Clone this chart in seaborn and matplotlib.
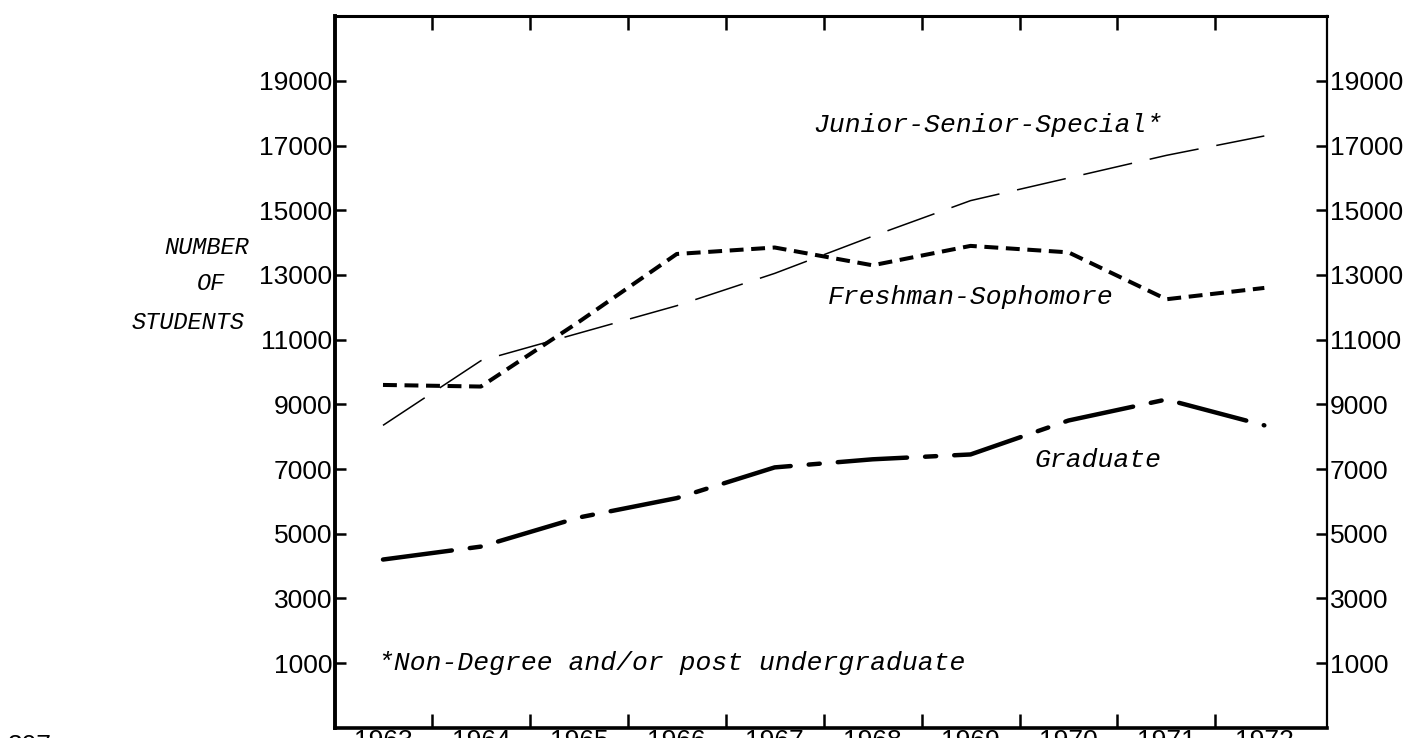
import matplotlib
matplotlib.use("Agg")
import matplotlib.pyplot as plt
import numpy as np
import pandas as pd
import seaborn as sns

# ---------------- data ----------------
years = [1963, 1964, 1965, 1966, 1967, 1968, 1969, 1970, 1971, 1972]
year_labels = [str(y) for y in years]
freshman_sophomore = [9600, 9550, 11550, 13650, 13850, 13300, 13900, 13700, 12250, 12600]
junior_senior_special = [8350, 10350, 11200, 12050, 13050, 14200, 15300, 16000, 16700, 17300]
graduate = [4200, 4600, 5500, 6100, 7050, 7300, 7450, 8500, 9150, 8350]
y_ticks = [1000, 3000, 5000, 7000, 9000, 11000, 13000, 15000, 17000, 19000]

df = pd.DataFrame({
    "pos": np.arange(len(years)),
    "Freshman-Sophomore": freshman_sophomore,
    "Junior-Senior-Special": junior_senior_special,
    "Graduate": graduate,
})

# ---------------- style ----------------
sns.set_theme(style="white")
plt.rcParams["font.family"] = ["Liberation Sans", "DejaVu Sans"]
plt.rcParams["lines.scale_dashes"] = False

W, H = 1428, 738
fig = plt.figure(figsize=(W / 100, H / 100), dpi=100)
fig.patch.set_facecolor("white")
L, R, T, B = 335, 1327, 16, 728
ax = fig.add_axes([L / W, (H - B) / H, (R - L) / W, (B - T) / H])
ax.set_facecolor("white")

# ---------------- lines ----------------
sns.lineplot(data=df, x="pos", y="Junior-Senior-Special", ax=ax, color="black",
             linewidth=1.1, estimator=None)
ax.lines[-1].set_dashes([36, 13])
ax.lines[-1].set_dash_capstyle("butt")

sns.lineplot(data=df, x="pos", y="Freshman-Sophomore", ax=ax, color="black",
             linewidth=2.9, estimator=None)
ax.lines[-1].set_dashes([10, 5.5])
ax.lines[-1].set_dash_capstyle("butt")

sns.lineplot(data=df, x="pos", y="Graduate", ax=ax, color="black",
             linewidth=3.2, estimator=None)
ax.lines[-1].set_dashes([50, 13, 8, 13])
ax.lines[-1].set_dash_capstyle("round")

# ---------------- axes ----------------
ax.set_xlim(-0.49, 9.64)
ax.set_ylim(-1010, 21010)
ax.set_xlabel("")
ax.set_ylabel("")

ax.set_xticks(np.arange(len(years) - 1) + 0.5)
ax.set_xticklabels([])
ax.set_xticks(np.arange(len(years)), minor=True)
ax.set_xticklabels(year_labels, minor=True)
ax.tick_params(axis="x", which="major", direction="in", length=10, width=1.8,
               top=True, bottom=True, color="black")
ax.tick_params(axis="x", which="minor", length=0, pad=1, labelsize=19,
               labelcolor="black", top=False, bottom=True)

ax.set_yticks(y_ticks)
ax.set_yticklabels([str(v) for v in y_ticks])
ax.tick_params(axis="y", which="major", direction="in", length=8, width=1.8,
               left=True, right=True, labelleft=True, labelright=True,
               labelsize=19, labelcolor="black", color="black", pad=2)
ax.grid(False)

for side, lw in [("left", 2.8), ("bottom", 2.6), ("top", 2.2), ("right", 1.6)]:
    ax.spines[side].set_visible(True)
    ax.spines[side].set_color("black")
    ax.spines[side].set_linewidth(lw)

# ---------------- annotations ----------------
mono = dict(family=["Liberation Mono", "DejaVu Sans Mono"], style="italic",
            size=19, color="black")

def ptext(x, y, s, ha="left", va="center", **kw):
    fig.text(x / W, 1 - y / H, s, ha=ha, va=va, **kw)

ptext(813, 125, "Junior-Senior-Special*", **mono)
ptext(828, 297, "Freshman-Sophomore", **mono)
ptext(1035, 460, "Graduate", **mono)
ptext(378, 663, "*Non-Degree and/or post undergraduate", **mono)

side = dict(family=["Liberation Mono", "DejaVu Sans Mono"], style="italic",
            size=17, color="black")
ptext(207, 247, "NUMBER", ha="center", **side)
ptext(211, 284, "OF", ha="center", **side)
ptext(188, 322, "STUDENTS", ha="center", **side)

ptext(8, 734, "307", ha="left", va="top", size=19, color="black")

fig.savefig("out.png", dpi=100, facecolor="white")
